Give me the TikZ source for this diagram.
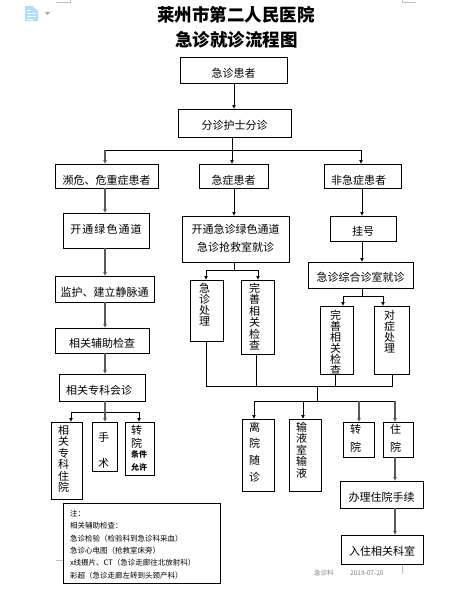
\documentclass[tikz,border=0pt]{standalone}
\usepackage{fontspec}
\setmainfont{Noto Sans CJK SC}
\usepackage{xcolor}
\usetikzlibrary{positioning,arrows.meta,calc}

\begin{document}
\begin{tikzpicture}[
    x=1pt, y=-1pt,
    box/.style={draw, line width=0.9pt, anchor=north west, align=center, inner sep=0pt,
                outer sep=0pt, font=\fontsize{11}{18}\selectfont},
    vbox/.style 2 args={box, align=left, text width=#1,
                font=\fontsize{11}{#2}\selectfont},
    line/.style={line width=0.9pt},
    stem/.style={line width=1.3pt, black!60},
    arr/.style={-{Latex[length=4pt,width=4pt]}, line width=0.9pt},
    garr/.style={-{Latex[length=4pt,width=4pt]}, line width=1.3pt, black!65},
    note/.style={font=\fontsize{6.5}{8}\selectfont, text=black!50, inner sep=0pt},
    crop/.style={line width=0.6pt, black!25},
  ]
  \useasboundingbox (0,0) rectangle (474,592);
  % Page furniture
  \draw[crop] (56,2) -- (70,2) -- (70,0);
  \draw[crop] (416,2) -- (402,2) -- (402,0);
  \draw[crop] (56,560) -- (63,560);
  \draw[crop] (402,564) -- (402,574);
  \fill[blue!45!cyan!30] (25,6) -- (33,6) -- (38,11) -- (38,21) -- (25,21) -- cycle;
  \draw[white, line width=0.7pt] (27,10) -- (31,10) (27,13) -- (36,13) (27,16) -- (36,16) (27,19) -- (33,19);
  \fill[black!35] (45,12) -- (50,12) -- (47.5,15) -- cycle;

  % Title
  \node[font=\fontsize{17.5}{20}\selectfont\bfseries, inner sep=0pt] (title) at (236,15) {莱州市第二人民医院};
  \node[font=\fontsize{17.5}{20}\selectfont\bfseries, inner sep=0pt] (subtitle) at (236.5,40) {急诊就诊流程图};

  % Triage
  \node[box, minimum width=107pt, text height=20pt, text depth=6pt] (patient) at (180,57) {急诊患者};
  \node[box, minimum width=113pt, text height=20pt, text depth=8pt] (triage) at (178,109) {分诊护士分诊};
  \node[box, minimum width=103pt, text height=20pt, text depth=4pt] (critical) at (55,164) {濒危、危重症患者};
  \node[box, minimum width=69pt, text height=20pt, text depth=4pt] (urgent) at (199,164) {急症患者};
  \node[box, text width=63pt, inner xsep=7pt, align=left, text height=20pt, text depth=4pt] (nonurgent) at (324,164) {非急症患者};

  % Left column
  \node[box, minimum width=86pt, text height=20pt, text depth=15pt] (green) at (63,213) {\addfontfeature{LetterSpace=10}开通绿色通道};
  \node[box, minimum width=99pt, text height=20pt, text depth=6pt] (monitor) at (55,276) {监护、建立静脉通};
  \node[box, minimum width=94pt, text height=19pt, text depth=6pt] (aux) at (55,328) {相关辅助检查};
  \node[box, text width=72pt, inner xsep=7pt, align=left, text height=20pt, text depth=7pt] (consult) at (59,374) {相关专科会诊};
  \node[vbox={17pt}{11.5}, inner xsep=7pt, text height=12pt, text depth=65pt] (ward) at (51,422) {相\\关\\专\\科\\住\\院};
  \node[vbox={13pt}{26}, inner xsep=6pt, text height=19pt, text depth=30pt] (surgery) at (92,422) {手\\术};
  \node[vbox={17pt}{13}, inner xsep=6pt, text height=12pt, text depth=41pt] (refer) at (125,422)
        {转\\院\\{\bfseries\fontsize{8}{10.5}\selectfont 条件\\允许}};

  % Middle column
  \node[box, text width=107pt, font=\fontsize{11}{18}\selectfont, text height=17pt, text depth=29pt] (rescue) at (182,216)
        {开通急诊绿色通道\\急诊抢救室就诊};
  \node[vbox={15pt}{11.3}, inner xsep=9pt, text height=12pt, text depth=49pt] (treat) at (190,280) {急\\诊\\处\\理};
  \node[vbox={17pt}{11.5}, inner xsep=8pt, text height=12pt, text depth=62pt] (exama) at (241,280) {完\\善\\相\\关\\检\\查};

  % Right column
  \node[box, minimum width=66pt, text height=19pt, text depth=6pt] (register) at (330,216) {挂号};
  \node[box, minimum width=105pt, text height=19pt, text depth=7pt] (general) at (308,262) {急诊综合诊室就诊};
  \node[vbox={13pt}{9.5}, inner xsep=10pt, text height=13pt, text depth=55pt] (examb) at (320,306) {完\\善\\相\\关\\检\\查};
  \node[vbox={15pt}{11}, inner xsep=10pt, text height=13pt, text depth=55pt] (symptom) at (374,306) {对\\症\\处\\理};

  % Outcomes
  \node[vbox={18pt}{16.7}, inner xsep=7pt, text height=12pt, text depth=60pt] (leave) at (242,419) {离\\院\\随\\诊};
  \node[vbox={18pt}{11.5}, inner xsep=7pt, text height=12pt, text depth=60pt] (infusion) at (289,419) {输\\液\\室\\输\\液};
  \node[vbox={17pt}{18}, inner xsep=7pt, text height=11pt, text depth=24pt] (transfer) at (343,422) {转\\院};
  \node[vbox={16pt}{18}, inner xsep=7pt, text height=11pt, text depth=24pt] (admit) at (383,422) {住\\院};
  \node[box, minimum width=83pt, text height=20pt, text depth=7pt] (formalities) at (340,481) {办理住院手续};
  \node[box, minimum width=82pt, text height=20pt, text depth=9pt] (dept) at (341,535) {入住相关科室};

  % Note
  \node[box, text width=143pt, inner xsep=7pt, align=left, font=\fontsize{7.5}{12.3}\selectfont,
        text height=13.5pt, text depth=66.5pt] (remark) at (63,503)
        {注：\\相关辅助检查：\\急诊检验（检验科到急诊科采血）\\急诊心电图（抢救室床旁）\\x线摄片、CT（急诊走廊往北放射科）\\彩超（急诊走廊左转到头颈产科）};
  \node[note, anchor=west] (office) at (314,573) {急诊科};
  \node[note, anchor=west] (date) at (350,573) {2019-07-20};

  % Junctions
  \coordinate (patientdrop) at (234,96);
  \coordinate (lstem) at (105,150);
  \coordinate (mstem) at (232,150);
  \coordinate (rstem) at (361,150);
  \coordinate (midbus) at (234,270);
  \coordinate (midbusl) at (206,270);
  \coordinate (midbusr) at (258,270);
  \coordinate (rightbus) at (362,296);
  \coordinate (rightbusl) at (343,296);
  \coordinate (rightbusr) at (383,296);
  \coordinate (leftbus) at (105,412);
  \coordinate (leftbusl) at (71,412);
  \coordinate (leftbusr) at (139,412);
  \coordinate (joinl) at (206,386);
  \coordinate (joinm) at (256,386);
  \coordinate (joinbus) at (317,386);
  \coordinate (joinn) at (335,386);
  \coordinate (joinr) at (392,386);
  \coordinate (outl) at (254,401);
  \coordinate (outm) at (303,401);
  \coordinate (outbus) at (317,401);
  \coordinate (outn) at (359,401);
  \coordinate (outr) at (395,401);

  \draw[arr] (patient.south -| patientdrop) -- (triage.north -| patientdrop);
  \draw[line] (triage.south -| mstem) -- (mstem);
  \draw[line] (lstem) -- (rstem);
  \draw[garr] (lstem) -- (critical.north -| lstem);
  \draw[arr] (mstem) -- (urgent.north -| mstem);
  \draw[arr] (rstem) -- (nonurgent.north -| rstem);

  \draw[garr] (critical.south -| lstem) -- (green.north -| lstem);
  \draw[garr] (green.south -| lstem) -- (monitor.north -| lstem);
  \draw[garr] (monitor.south -| lstem) -- (aux.north -| lstem);
  \draw[garr] (aux.south -| lstem) -- (consult.north -| lstem);
  \draw[stem] (consult.south -| lstem) -- (leftbus);
  \draw[line] (leftbusl) -- (leftbusr);
  \draw[arr] (leftbusl) -- (ward.north -| leftbusl);
  \draw[garr] (leftbus) -- (surgery.north -| leftbus);
  \draw[arr] (leftbusr) -- (refer.north -| leftbusr);

  \draw[arr] (urgent.south -| midbus) -- (rescue.north -| midbus);
  \draw[line] (rescue.south -| midbus) -- (midbus);
  \draw[line] (midbusl) -- (midbusr);
  \draw[arr] (midbusl) -- (treat.north -| midbusl);
  \draw[arr] (midbusr) -- (exama.north -| midbusr);

  \draw[arr] (nonurgent.south -| rightbus) -- (register.north -| rightbus);
  \draw[arr] (register.south -| rightbus) -- (general.north -| rightbus);
  \draw[line] (general.south -| rightbus) -- (rightbus);
  \draw[line] (rightbusl) -- (rightbusr);
  \draw[arr] (rightbusl) -- (examb.north -| rightbusl);
  \draw[arr] (rightbusr) -- (symptom.north -| rightbusr);

  \draw[line] (treat.south -| joinl) -- (joinl) -- (joinr) -- (symptom.south -| joinr);
  \draw[line] (exama.south -| joinm) -- (joinm);
  \draw[line] (examb.south -| joinn) -- (joinn);
  \draw[line] (joinbus) -- (outbus);
  \draw[line] (outl) -- (outr);
  \draw[arr] (outl) -- (leave.north -| outl);
  \draw[arr] (outm) -- (infusion.north -| outm);
  \draw[garr] (outn) -- (transfer.north -| outn);
  \draw[garr] (outr) -- (admit.north -| outr);
  \draw[garr] (admit.south -| outr) -- (formalities.north -| outr);
  \draw[garr] (formalities.south -| outr) -- (dept.north -| outr);
\end{tikzpicture}
\end{document}
